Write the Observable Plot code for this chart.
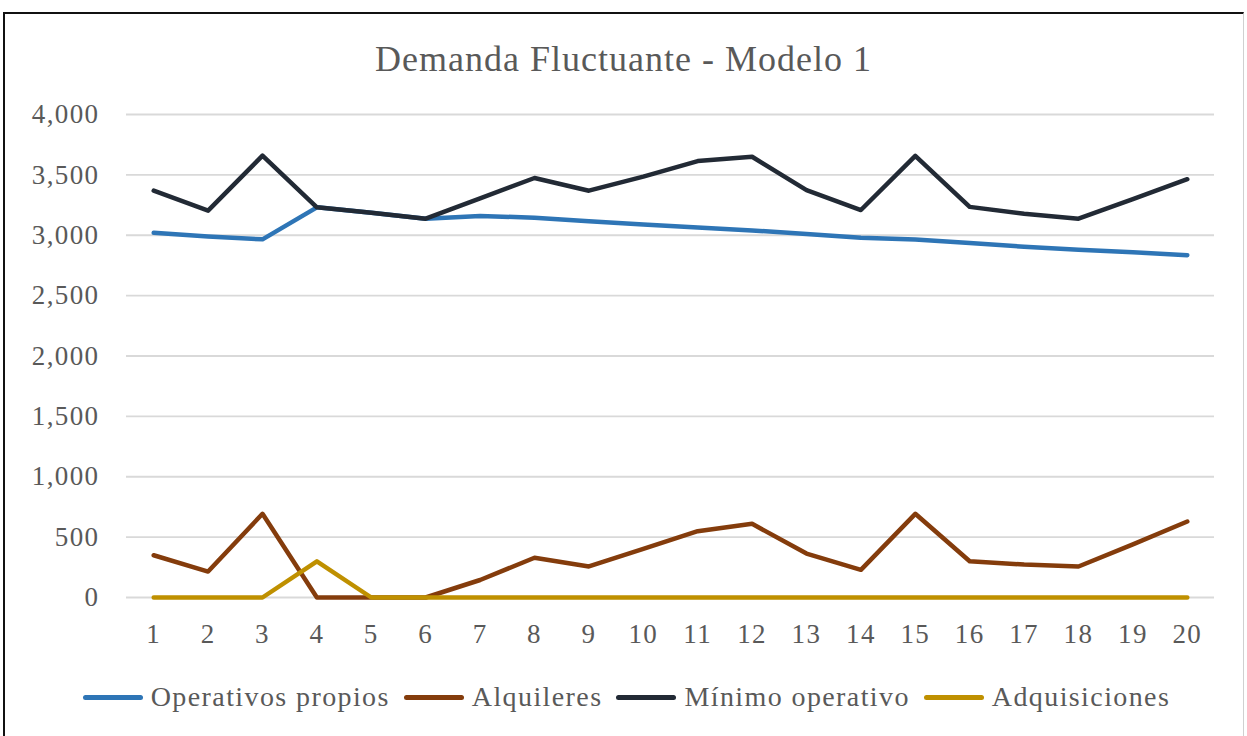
<!DOCTYPE html>
<html>
<head>
<meta charset="utf-8">
<script src="https://cdn.jsdelivr.net/npm/d3@7"></script>
<script src="https://cdn.jsdelivr.net/npm/@observablehq/plot@0.6"></script>
<style>
  html, body { margin: 0; padding: 0; background: #fff; }
  #wrap { position: relative; width: 1247px; height: 736px; overflow: hidden; background: #fff; font-family: "Liberation Serif", serif; color: #595959; }
  #frame { position: absolute; left: 3px; top: 12px; width: 1238px; height: 760px; border-left: 2px solid #111; border-top: 2px solid #111; border-right: 1px solid #d0d0d0; }
  #title { position: absolute; left: 0; width: 1247px; top: 37px; text-align: center; font-size: 36px; letter-spacing: 1px; line-height: 44px; color: #595959; }
  #chart { position: absolute; left: 0; top: 0; }
  #legend { position: absolute; left: 3px; width: 1247px; top: 681px; display: flex; justify-content: center; align-items: center; font-size: 28px; letter-spacing: 1.4px; line-height: 32px; color: #595959; }
  .item { display: flex; align-items: center; margin: 0 7px; }
  .sw { width: 60px; height: 5px; border-radius: 3px; margin-right: 8px; }
</style>
</head>
<body>
<div id="wrap">
  <div id="frame"></div>
  <div id="title">Demanda Fluctuante - Modelo 1</div>
  <div id="chart"></div>
  <div id="legend"></div>
</div>
<script>
const periods = [1,2,3,4,5,6,7,8,9,10,11,12,13,14,15,16,17,18,19,20];
const operativosPropios = [3020, 2990, 2966, 3231, 3187, 3137, 3160, 3145, 3115, 3090, 3065, 3040, 3010, 2980, 2965, 2935, 2905, 2880, 2860, 2835];
const alquileres = [350, 215, 693, 0, 0, 0, 145, 329, 257, 403, 549, 610, 364, 229, 693, 300, 273, 257, 440, 629];
const minimoOperativo = [3369, 3204, 3659, 3231, 3187, 3137, 3305, 3474, 3369, 3485, 3614, 3650, 3374, 3209, 3658, 3235, 3178, 3137, 3300, 3464];
const adquisiciones = [0, 0, 0, 300, 0, 0, 0, 0, 0, 0, 0, 0, 0, 0, 0, 0, 0, 0, 0, 0];
const seriesNames = ["Operativos propios", "Alquileres", "Mínimo operativo", "Adquisiciones"];
const seriesColors = ["#2E75B6", "#843C0C", "#222A35", "#BF9000"];
const yTicks = [0, 500, 1000, 1500, 2000, 2500, 3000, 3500, 4000];

const seriesValues = [operativosPropios, alquileres, minimoOperativo, adquisiciones];
const rows = [];
seriesNames.forEach((name, i) => {
  periods.forEach((p, j) => rows.push({series: name, period: p, value: seriesValues[i][j]}));
});

const chart = Plot.plot({
  width: 1247,
  height: 736,
  marginLeft: 126,
  marginRight: 33,
  marginTop: 114,
  marginBottom: 139,
  style: { fontFamily: "Liberation Serif, serif", fontSize: "27px", letterSpacing: "1.4px", color: "#595959", background: "transparent" },
  x: { type: "point", domain: periods, padding: 0.5, round: false },
  y: { domain: [0, 4000] },
  color: { domain: seriesNames, range: seriesColors },
  marks: [
    Plot.ruleY(yTicks, { stroke: "#d9d9d9", strokeWidth: 1.8 }),
    Plot.axisY({ ticks: yTicks, tickSize: 0, tickPadding: 27, tickFormat: d3.format(","), label: null, fill: "#595959" }),
    Plot.axisX({ tickSize: 0, tickPadding: 26, label: null, fill: "#595959" }),
    ...seriesNames.map(name => Plot.lineY(rows.filter(r => r.series === name), {
      x: "period", y: "value", stroke: "series", strokeWidth: 4.5, strokeLinejoin: "round", strokeLinecap: "round"
    }))
  ]
});
document.getElementById("chart").appendChild(chart);

const legend = document.getElementById("legend");
seriesNames.forEach((name, i) => {
  const item = document.createElement("div");
  item.className = "item";
  const sw = document.createElement("div");
  sw.className = "sw";
  sw.style.background = seriesColors[i];
  const label = document.createElement("span");
  label.textContent = name;
  item.appendChild(sw);
  item.appendChild(label);
  legend.appendChild(item);
});
</script>
</body>
</html>
